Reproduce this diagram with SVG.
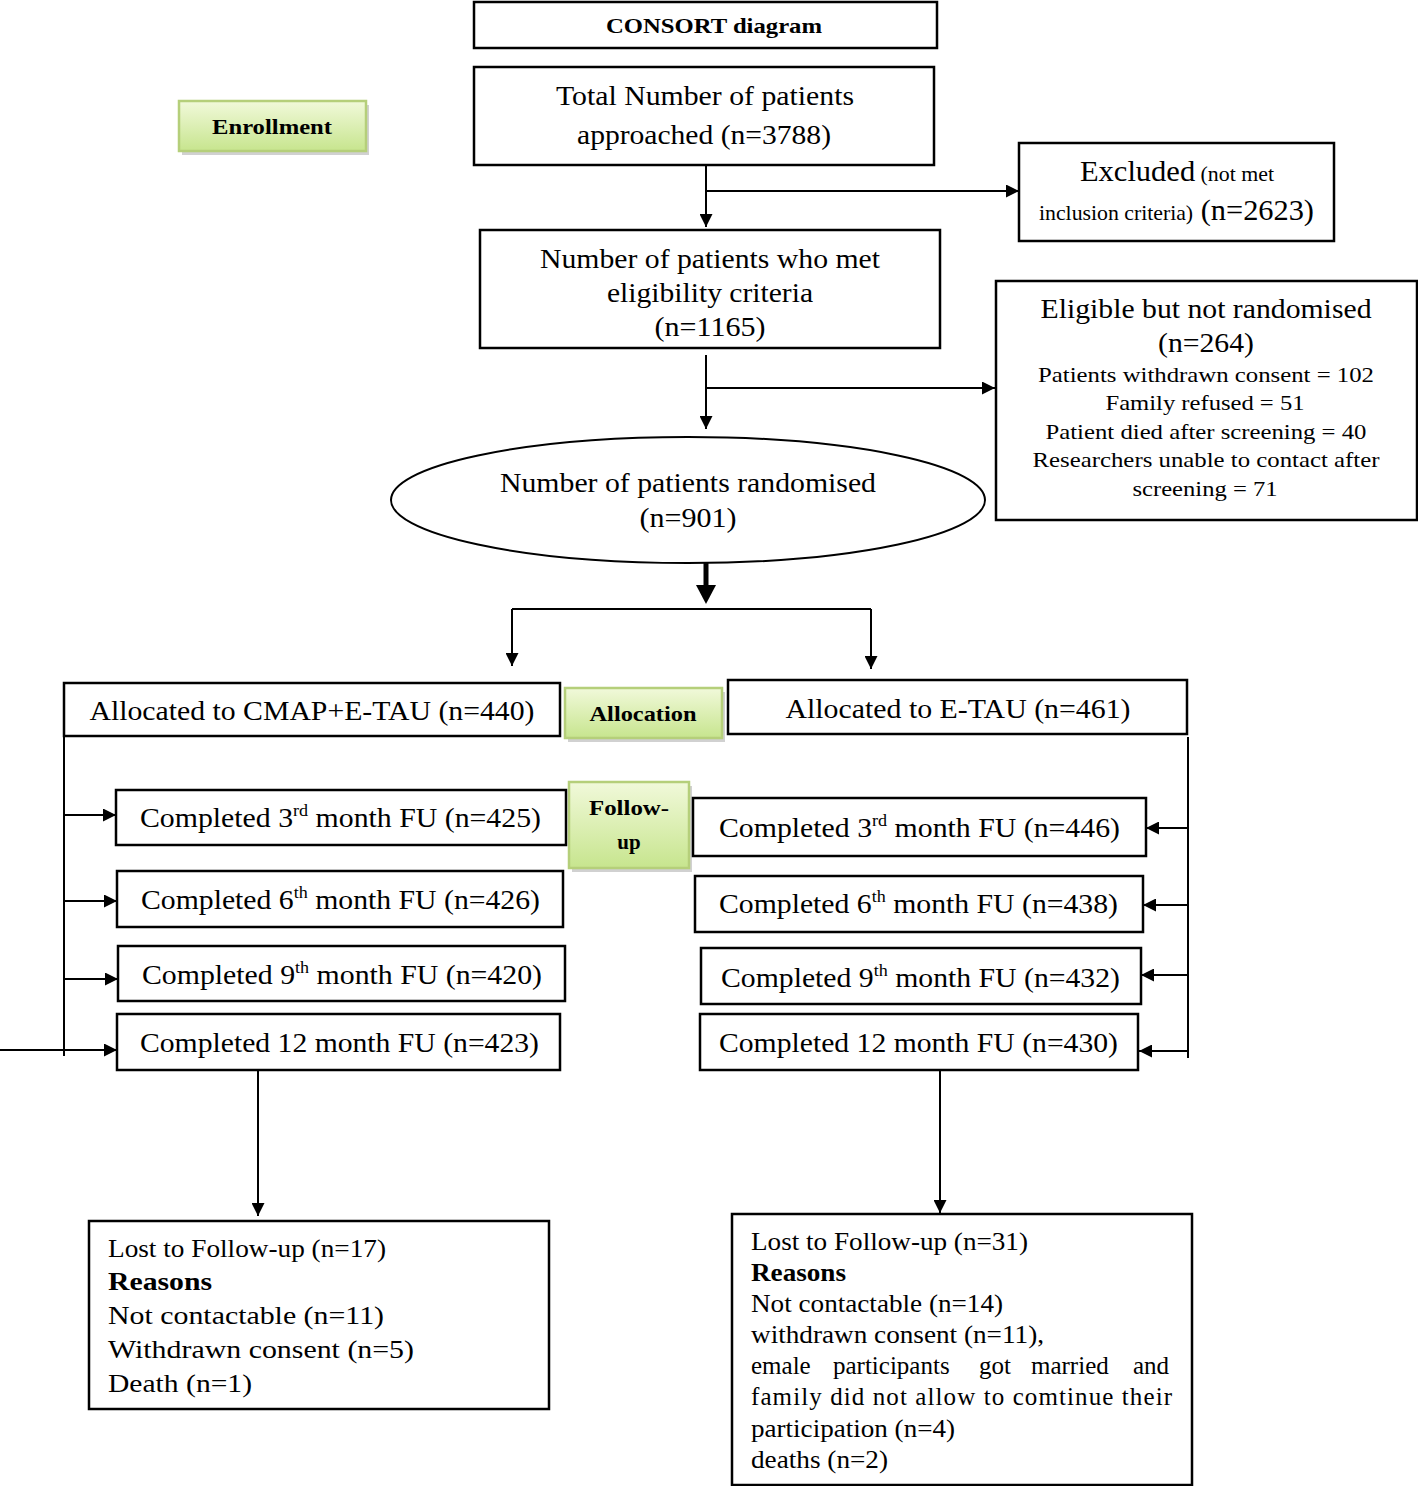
<svg xmlns="http://www.w3.org/2000/svg" width="1418" height="1486" viewBox="0 0 1418 1486">
<defs>
<style>
.box{fill:#fff;stroke:#000;stroke-width:2.5}
.gbox{fill:url(#green);stroke:#b5cf7a;stroke-width:2.5}
.shadow{fill:#9a9a9a;opacity:0.45}
.t{font-family:"Liberation Serif","Times New Roman",serif;fill:#000}
.c{text-anchor:middle}
.b{font-weight:bold}
.ln{fill:none;stroke:#000;stroke-width:2}
.arr{marker-end:url(#ah)}
</style>
<linearGradient id="green" x1="0" y1="0" x2="0" y2="1">
<stop offset="0" stop-color="#f1f9da"/>
<stop offset="1" stop-color="#c7e58e"/>
</linearGradient>
<marker id="ah" viewBox="0 0 10 10" refX="10" refY="5" markerWidth="15" markerHeight="13" markerUnits="userSpaceOnUse" orient="auto">
<path d="M0,0 L10,5 L0,10 z" fill="#000"/>
</marker>
</defs>
<rect width="1418" height="1486" fill="#fff"/>

<g id="connectors">
<path class="ln arr" d="M706,165 V227"/>
<path class="ln arr" d="M706,191 H1019"/>
<path class="ln arr" d="M706,355 V429"/>
<path class="ln arr" d="M706,388 H995"/>
<path class="ln" d="M706,563 V590" style="stroke-width:5"/>
<path d="M696,585 L716,585 L706,604 z" fill="#000"/>
<path class="ln" d="M512,609 H871"/>
<path class="ln arr" d="M512,609 V666"/>
<path class="ln arr" d="M871,609 V669"/>
<path class="ln" d="M64,736 V1056"/>
<path class="ln arr" d="M64,815 H116"/>
<path class="ln arr" d="M64,901 H117"/>
<path class="ln arr" d="M64,979 H118"/>
<path class="ln arr" d="M0,1050 H117"/>
<path class="ln" d="M1188,737 V1058"/>
<path class="ln arr" d="M1188,828 H1146"/>
<path class="ln arr" d="M1188,905 H1143"/>
<path class="ln arr" d="M1188,975 H1141"/>
<path class="ln arr" d="M1188,1051 H1139"/>
<path class="ln arr" d="M258,1070 V1216"/>
<path class="ln arr" d="M940,1070 V1213"/>
</g>

<g id="consort">
<rect class="box" x="474" y="2" width="463" height="46"/>
<text class="t c b" x="714" y="33" font-size="22" textLength="216" lengthAdjust="spacingAndGlyphs">CONSORT diagram</text>
</g>

<g id="enrollment">
<rect class="shadow" x="182" y="105" width="187" height="50"/>
<rect class="gbox" x="179" y="101" width="187" height="50"/>
<text class="t c b" x="272" y="134" font-size="21" textLength="120" lengthAdjust="spacingAndGlyphs">Enrollment</text>
</g>

<g id="total">
<rect class="box" x="474" y="67" width="460" height="98"/>
<text class="t c" x="705" y="105" font-size="28" textLength="298" lengthAdjust="spacingAndGlyphs">Total Number of patients</text>
<text class="t c" x="704" y="144" font-size="28" textLength="254" lengthAdjust="spacingAndGlyphs">approached (n=3788)</text>
</g>

<g id="excluded">
<rect class="box" x="1019" y="143" width="315" height="98"/>
<text class="t" x="1080" y="181" textLength="194" lengthAdjust="spacingAndGlyphs"><tspan font-size="30">Excluded</tspan><tspan font-size="21.5"> (not met</tspan></text>
<text class="t" x="1039" y="220" textLength="275" lengthAdjust="spacingAndGlyphs"><tspan font-size="21.5">inclusion criteria)</tspan><tspan font-size="30"> (n=2623)</tspan></text>
</g>

<g id="eligible">
<rect class="box" x="480" y="230" width="460" height="118"/>
<text class="t c" x="710" y="268" font-size="28" textLength="340" lengthAdjust="spacingAndGlyphs">Number of patients who met</text>
<text class="t c" x="710" y="302" font-size="28" textLength="206" lengthAdjust="spacingAndGlyphs">eligibility criteria</text>
<text class="t c" x="710" y="336" font-size="28" textLength="111" lengthAdjust="spacingAndGlyphs">(n=1165)</text>
</g>

<g id="not-randomised">
<rect class="box" x="996" y="281" width="421" height="239"/>
<text class="t c" x="1206" y="318" font-size="28" textLength="331" lengthAdjust="spacingAndGlyphs">Eligible but not randomised</text>
<text class="t c" x="1206" y="352" font-size="28" textLength="96" lengthAdjust="spacingAndGlyphs">(n=264)</text>
<text class="t c" x="1206" y="382" font-size="22" textLength="336" lengthAdjust="spacingAndGlyphs">Patients withdrawn consent = 102</text>
<text class="t c" x="1205" y="410" font-size="22" textLength="199" lengthAdjust="spacingAndGlyphs">Family refused = 51</text>
<text class="t c" x="1206" y="439" font-size="22" textLength="321" lengthAdjust="spacingAndGlyphs">Patient died after screening = 40</text>
<text class="t c" x="1206" y="467" font-size="22" textLength="347" lengthAdjust="spacingAndGlyphs">Researchers unable to contact after</text>
<text class="t c" x="1205" y="496" font-size="22" textLength="145" lengthAdjust="spacingAndGlyphs">screening = 71</text>
</g>

<g id="randomised">
<ellipse cx="688" cy="500" rx="297" ry="63" fill="#fff" stroke="#000" stroke-width="2"/>
<text class="t c" x="688" y="492" font-size="28" textLength="376" lengthAdjust="spacingAndGlyphs">Number of patients randomised</text>
<text class="t c" x="688" y="527" font-size="28" textLength="97" lengthAdjust="spacingAndGlyphs">(n=901)</text>
</g>

<g id="alloc-left">
<rect class="box" x="64" y="683" width="496" height="53"/>
<text class="t c" x="312" y="720" font-size="28" textLength="445" lengthAdjust="spacingAndGlyphs">Allocated to CMAP+E-TAU (n=440)</text>
</g>

<g id="allocation">
<rect class="shadow" x="568" y="692" width="157" height="50"/>
<rect class="gbox" x="565" y="688" width="157" height="50"/>
<text class="t c b" x="643" y="721" font-size="21" textLength="107" lengthAdjust="spacingAndGlyphs">Allocation</text>
</g>

<g id="alloc-right">
<rect class="box" x="728" y="680" width="459" height="54"/>
<text class="t c" x="958" y="718" font-size="28" textLength="345" lengthAdjust="spacingAndGlyphs">Allocated to E-TAU (n=461)</text>
</g>

<g id="followup">
<rect class="shadow" x="572" y="786" width="120" height="86"/>
<rect class="gbox" x="569" y="782" width="120" height="86"/>
<text class="t c b" x="629" y="815" font-size="21" textLength="80" lengthAdjust="spacingAndGlyphs">Follow-</text>
<text class="t c b" x="629" y="849" font-size="21">up</text>
</g>

<g id="left-3">
<rect class="box" x="116" y="790" width="450" height="55"/>
<text class="t" x="140" y="827" font-size="28" textLength="401" lengthAdjust="spacingAndGlyphs">Completed 3<tspan font-size="17" dy="-11">rd</tspan><tspan dy="11"> month FU (n=425)</tspan></text>
</g>
<g id="left-6">
<rect class="box" x="117" y="871" width="446" height="56"/>
<text class="t" x="141" y="909" font-size="28" textLength="399" lengthAdjust="spacingAndGlyphs">Completed 6<tspan font-size="17" dy="-11">th</tspan><tspan dy="11"> month FU (n=426)</tspan></text>
</g>
<g id="left-9">
<rect class="box" x="118" y="946" width="447" height="55"/>
<text class="t" x="142" y="984" font-size="28" textLength="400" lengthAdjust="spacingAndGlyphs">Completed 9<tspan font-size="17" dy="-11">th</tspan><tspan dy="11"> month FU (n=420)</tspan></text>
</g>
<g id="left-12">
<rect class="box" x="117" y="1014" width="443" height="56"/>
<text class="t" x="140" y="1052" font-size="28" textLength="399" lengthAdjust="spacingAndGlyphs">Completed 12 month FU (n=423)</text>
</g>

<g id="right-3">
<rect class="box" x="693" y="798" width="453" height="58"/>
<text class="t" x="719" y="837" font-size="28" textLength="401" lengthAdjust="spacingAndGlyphs">Completed 3<tspan font-size="17" dy="-11">rd</tspan><tspan dy="11"> month FU (n=446)</tspan></text>
</g>
<g id="right-6">
<rect class="box" x="695" y="876" width="448" height="56"/>
<text class="t" x="719" y="913" font-size="28" textLength="399" lengthAdjust="spacingAndGlyphs">Completed 6<tspan font-size="17" dy="-11">th</tspan><tspan dy="11"> month FU (n=438)</tspan></text>
</g>
<g id="right-9">
<rect class="box" x="701" y="948" width="440" height="56"/>
<text class="t" x="721" y="987" font-size="28" textLength="399" lengthAdjust="spacingAndGlyphs">Completed 9<tspan font-size="17" dy="-11">th</tspan><tspan dy="11"> month FU (n=432)</tspan></text>
</g>
<g id="right-12">
<rect class="box" x="700" y="1014" width="438" height="56"/>
<text class="t" x="719" y="1052" font-size="28" textLength="399" lengthAdjust="spacingAndGlyphs">Completed 12 month FU (n=430)</text>
</g>

<g id="lost-left">
<rect class="box" x="89" y="1221" width="460" height="188"/>
<text class="t" x="108" y="1257" font-size="26" textLength="278" lengthAdjust="spacingAndGlyphs">Lost to Follow-up (n=17)</text>
<text class="t b" x="108" y="1290" font-size="26" textLength="104" lengthAdjust="spacingAndGlyphs">Reasons</text>
<text class="t" x="108" y="1324" font-size="26" textLength="276" lengthAdjust="spacingAndGlyphs">Not contactable (n=11)</text>
<text class="t" x="108" y="1358" font-size="26" textLength="306" lengthAdjust="spacingAndGlyphs">Withdrawn consent (n=5)</text>
<text class="t" x="108" y="1392" font-size="26" textLength="144" lengthAdjust="spacingAndGlyphs">Death (n=1)</text>
</g>

<g id="lost-right">
<rect class="box" x="732" y="1214" width="460" height="271"/>
<text class="t" x="751" y="1250" font-size="25" textLength="277" lengthAdjust="spacingAndGlyphs">Lost to Follow-up (n=31)</text>
<text class="t b" x="751" y="1281" font-size="25" textLength="95" lengthAdjust="spacingAndGlyphs">Reasons</text>
<text class="t" x="751" y="1312" font-size="25" textLength="252" lengthAdjust="spacingAndGlyphs">Not contactable (n=14)</text>
<text class="t" x="751" y="1343" font-size="25" textLength="293" lengthAdjust="spacingAndGlyphs">withdrawn consent (n=11),</text>
<text class="t" y="1374" font-size="25"><tspan x="751">emale</tspan><tspan x="833">participants</tspan><tspan x="979">got</tspan><tspan x="1031">married</tspan><tspan x="1133">and</tspan></text>
<text class="t" x="751" y="1405" font-size="25" textLength="421" lengthAdjust="spacing">family did not allow to comtinue their</text>
<text class="t" x="751" y="1437" font-size="25" textLength="204" lengthAdjust="spacingAndGlyphs">participation (n=4)</text>
<text class="t" x="751" y="1468" font-size="25" textLength="137" lengthAdjust="spacingAndGlyphs">deaths (n=2)</text>
</g>
</svg>
